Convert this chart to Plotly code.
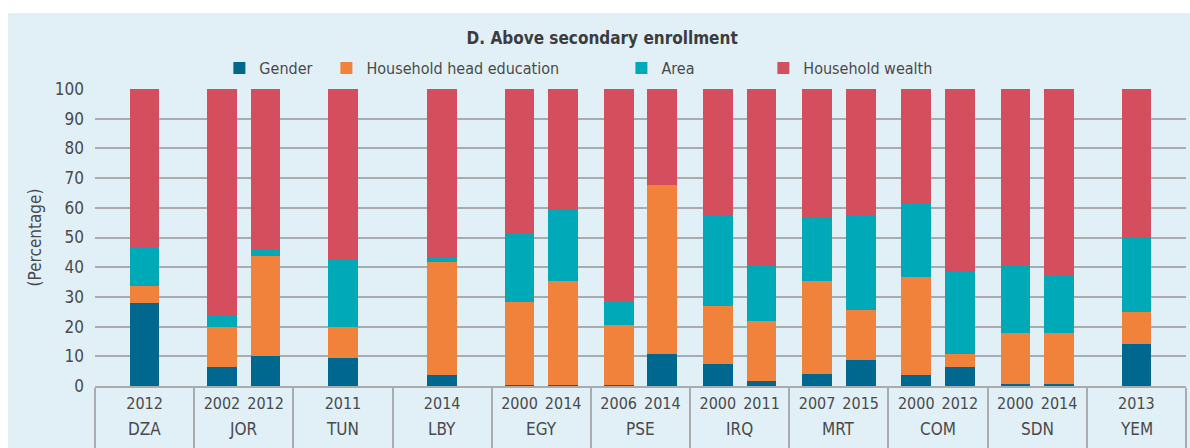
import plotly.graph_objects as go

# groups (country) and the survey years inside each group
countries = ['DZA', 'JOR', 'TUN', 'LBY', 'EGY', 'PSE', 'IRQ', 'MRT', 'COM', 'SDN', 'YEM']
years = [['2012'], ['2002', '2012'], ['2011'], ['2014'], ['2000', '2014'],
         ['2006', '2014'], ['2000', '2011'], ['2007', '2015'], ['2000', '2012'],
         ['2000', '2014'], ['2013']]

# share of each factor, one value per bar (same order as years flattened)
gender    = [27.8, 6.4, 10.0, 9.5, 3.6, 0.5, 0.5, 0.5, 10.8, 7.4, 1.8, 4.2, 8.7, 3.8, 6.3, 0.6, 0.6, 14.3]
education = [6.0, 13.6, 33.8, 10.5, 38.0, 27.8, 34.8, 20.2, 56.8, 19.6, 20.2, 31.1, 16.8, 32.8, 4.5, 17.3, 17.3, 10.6]
area      = [12.7, 3.5, 2.0, 22.4, 1.4, 23.2, 24.0, 7.6, 0.0, 30.2, 18.9, 21.2, 31.7, 24.9, 28.0, 23.0, 19.6, 25.1]
wealth    = [53.5, 76.5, 54.2, 57.6, 57.0, 48.5, 40.7, 71.7, 32.4, 42.8, 59.1, 43.5, 42.8, 38.5, 61.2, 59.1, 62.5, 50.0]

series = [('Gender', gender, '#00688f'),
          ('Household head education', education, '#f0823c'),
          ('Area', area, '#00a9b8'),
          ('Household wealth', wealth, '#d54e5e')]

BG = '#e1f0f6'
GRID = '#a8acaf'
TXT = '#4a4a4c'
FONT = 'DejaVu Sans Condensed, Liberation Sans Narrow, sans-serif'
FS = 17

# every country gets the same slot width; bars sit inside it
xpos, xlab = [], []
for i, ys in enumerate(years):
    if len(ys) == 1:
        offs = [0.5]
    else:
        offs = [0.28, 0.72]
    for o, y in zip(offs, ys):
        xpos.append(i + o)
        xlab.append(y)

# one legend per series so the entries can sit where the original has them
legend_names = ['legend', 'legend2', 'legend3', 'legend4']
legend_x = [0.1140, 0.2121, 0.4825, 0.6126]

fig = go.Figure()
for (name, vals, col), lg in zip(series, legend_names):
    fig.add_trace(go.Bar(x=xpos, y=vals, name=name, marker_color=col,
                         marker_line_width=0, width=0.3, legend=lg))

# country labels under the years
for i, c in enumerate(countries):
    fig.add_annotation(x=i + 0.5, y=-0.145, xref='x', yref='paper', text=c,
                       showarrow=False, yanchor='middle',
                       font=dict(size=FS, color=TXT, family=FONT))

# light blue panel, white strip on top and left
fig.add_shape(type='rect', xref='paper', yref='paper', x0=-0.0797, x1=1.02,
              y0=-0.3, y1=1.2559, fillcolor=BG, line_width=0, layer='below')

legends = {}
for lg, lx in zip(legend_names, legend_x):
    legends[lg] = dict(orientation='h', x=lx, xanchor='left', y=1.0707, yanchor='middle',
                       bgcolor='rgba(0,0,0,0)', font=dict(size=16, color=TXT, family=FONT),
                       itemclick=False)

fig.update_layout(
    barmode='stack',
    width=1190, height=448,
    paper_bgcolor='white', plot_bgcolor=BG,
    margin=dict(l=95, r=4, t=89, b=62),
    font=dict(family=FONT, color=TXT, size=FS),
    title=dict(text='<b>D. Above secondary enrollment</b>', x=0.506, xref='container',
               y=0.915, yanchor='middle', xanchor='center',
               font=dict(size=FS, color='#3c3c3e', family=FONT)),
    showlegend=True,
    bargap=0,
    **legends,
)

fig.update_xaxes(range=[0, 11], tickvals=xpos, ticktext=xlab, ticks='',
                 showgrid=False, zeroline=False, showline=True, linecolor=GRID,
                 linewidth=1.5, tickfont=dict(size=16, color=TXT),
                 ticklabelstandoff=2,
                 minor=dict(tickvals=list(range(len(countries) + 1)), ticks='outside',
                            ticklen=70, tickcolor=GRID, tickwidth=1.5, showgrid=False))
fig.update_yaxes(range=[0, 100], dtick=10, showgrid=True, gridcolor=GRID, gridwidth=1.5,
                 zeroline=False, showline=False, ticks='', ticklabelstandoff=10,
                 tickfont=dict(size=FS, color=TXT),
                 title=dict(text='(Percentage)', font=dict(size=FS, color=TXT), standoff=8))

# page without body margin so the figure fills the window exactly
fig.write_html("out.html", config={'displayModeBar': False},
               post_script="document.body.style.margin='0';")
